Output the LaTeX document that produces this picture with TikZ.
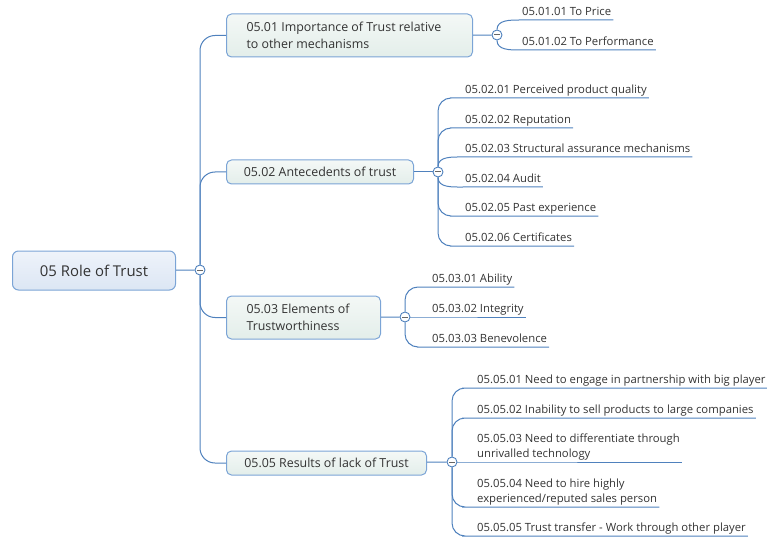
\documentclass[tikz,border=0pt]{standalone}
\usepackage{fontspec}
\setmainfont{Open Sans}
\definecolor{linec}{HTML}{4F81BD}
\definecolor{boxc}{HTML}{7BA4D6}
\definecolor{textc}{HTML}{333333}
\definecolor{rootT}{HTML}{EEF3FA}
\definecolor{rootB}{HTML}{DCE6F4}
\definecolor{topT}{HTML}{F4F8F6}
\definecolor{topB}{HTML}{E3EEEA}
\begin{document}
\begin{tikzpicture}[x=1pt,y=1pt,
  conn/.style={draw=linec, line width=1pt},
  trunk/.style={conn, rounded corners=15pt},
  leafconn/.style={conn, rounded corners=13pt},
  toggle/.style={circle, draw=linec, fill=white, line width=0.9pt,
    minimum size=10pt, inner sep=0pt,
    path picture={\draw[black!60, line width=1pt]
      ([xshift=-2.6pt]path picture bounding box.center) --
      ([xshift=2.6pt]path picture bounding box.center);}},
  rootbox/.style={draw=boxc, line width=1pt, rounded corners=6pt,
    top color=rootT, bottom color=rootB, text=textc, anchor=west,
    inner sep=0pt, font=\fontsize{14.9}{18}\selectfont},
  topic/.style={draw=boxc, line width=1pt, rounded corners=5pt,
    top color=topT, bottom color=topB, text=textc, anchor=west,
    inner sep=0pt, font=\fontsize{12.4}{17}\selectfont},
  topic2/.style={topic, inner xsep=20pt, align=flush left},
  leaf/.style={anchor=south west, inner xsep=2pt, inner ysep=4pt,
    text depth=0pt, align=left, text=textc,
    font=\fontsize{11.3}{15}\selectfont}
]
\useasboundingbox (0,0) rectangle (767,-537);

% central topic
\node[rootbox, minimum width=163pt, minimum height=39pt] (root) at (12,-270.5) {05 Role of Trust};
\node[toggle] (c0) at (200,-270) {};
\draw[conn] (root) -- (c0);

% main topics
\node[topic2, text width=206pt, minimum height=43pt] (b1) at (226,-35.5)
  {05.01 Importance of Trust relative\\to other mechanisms};
\node[topic, minimum width=187pt, minimum height=24pt] (b2) at (226,-172) {05.02 Antecedents of trust};
\node[topic2, text width=114pt, minimum height=43pt] (b3) at (226,-317.5)
  {05.03 Elements of\\Trustworthiness};
\node[topic, minimum width=200pt, minimum height=24pt] (b4) at (226,-463) {05.05 Results of lack of Trust};

\draw[trunk] (c0) |- (b1.west);
\draw[trunk] (c0) |- (b2.west);
\draw[trunk] (c0) |- (b3.west);
\draw[trunk] (c0) |- (b4.west);

% toggles of main topics
\node[toggle] (c1) at (497,-35) {};
\node[toggle] (c2) at (438,-172) {};
\node[toggle] (c3) at (405,-317) {};
\node[toggle] (c4) at (452,-462) {};
\draw[conn] (b1) -- (c1);
\draw[conn] (b2) -- (c2);
\draw[conn] (b3) -- (c3);
\draw[conn] (b4) -- (c4);

% 05.01 subtopics
\node[leaf] (l11) at (520,-20) {05.01.01 To Price};
\node[leaf] (l12) at (520,-50) {05.01.02 To Performance};
\draw[conn] (c1) to[out=90,in=180] (l11.south west) -- (l11.south east);
\draw[conn] (c1) to[out=-90,in=180] (l12.south west) -- (l12.south east);

% 05.02 subtopics
\node[leaf] (l21) at (463,-98) {05.02.01 Perceived product quality};
\node[leaf] (l22) at (463,-128) {05.02.02 Reputation};
\node[leaf] (l23) at (463,-157) {05.02.03 Structural assurance mechanisms};
\node[leaf] (l24) at (463,-187) {05.02.04 Audit};
\node[leaf] (l25) at (463,-216) {05.02.05 Past experience};
\node[leaf] (l26) at (463,-246) {05.02.06 Certificates};
\draw[leafconn] (c2) |- (l21.south west) -- (l21.south east);
\draw[leafconn] (c2) |- (l22.south west) -- (l22.south east);
\draw[conn] (c2) to[out=90,in=180] (l23.south west) -- (l23.south east);
\draw[conn] (c2) to[out=-90,in=180] (l24.south west) -- (l24.south east);
\draw[leafconn] (c2) |- (l25.south west) -- (l25.south east);
\draw[leafconn] (c2) |- (l26.south west) -- (l26.south east);

% 05.03 subtopics
\node[leaf] (l31) at (430,-287) {05.03.01 Ability};
\node[leaf] (l32) at (430,-317) {05.03.02 Integrity};
\node[leaf] (l33) at (430,-347) {05.03.03 Benevolence};
\draw[leafconn] (c3) |- (l31.south west) -- (l31.south east);
\draw[conn] (c3) -- (l32.south west) -- (l32.south east);
\draw[leafconn] (c3) |- (l33.south west) -- (l33.south east);

% 05.05 subtopics
\node[leaf] (l41) at (475,-388) {05.05.01 Need to engage in partnership with big player};
\node[leaf] (l42) at (475,-418) {05.05.02 Inability to sell products to large companies};
\node[leaf] (l43) at (475,-462) {05.05.03 Need to differentiate through\\unrivalled technology};
\node[leaf] (l44) at (475,-507) {05.05.04 Need to hire highly\\experienced/reputed sales person};
\node[leaf] (l45) at (475,-536) {05.05.05 Trust transfer - Work through other player};
\draw[leafconn] (c4) |- (l41.south west) -- (l41.south east);
\draw[leafconn] (c4) |- (l42.south west) -- (l42.south east);
\draw[conn] (c4) -- (l43.south west) -- (l43.south east);
\draw[leafconn] (c4) |- (l44.south west) -- (l44.south east);
\draw[leafconn] (c4) |- (l45.south west) -- (l45.south east);
\end{tikzpicture}
\end{document}
